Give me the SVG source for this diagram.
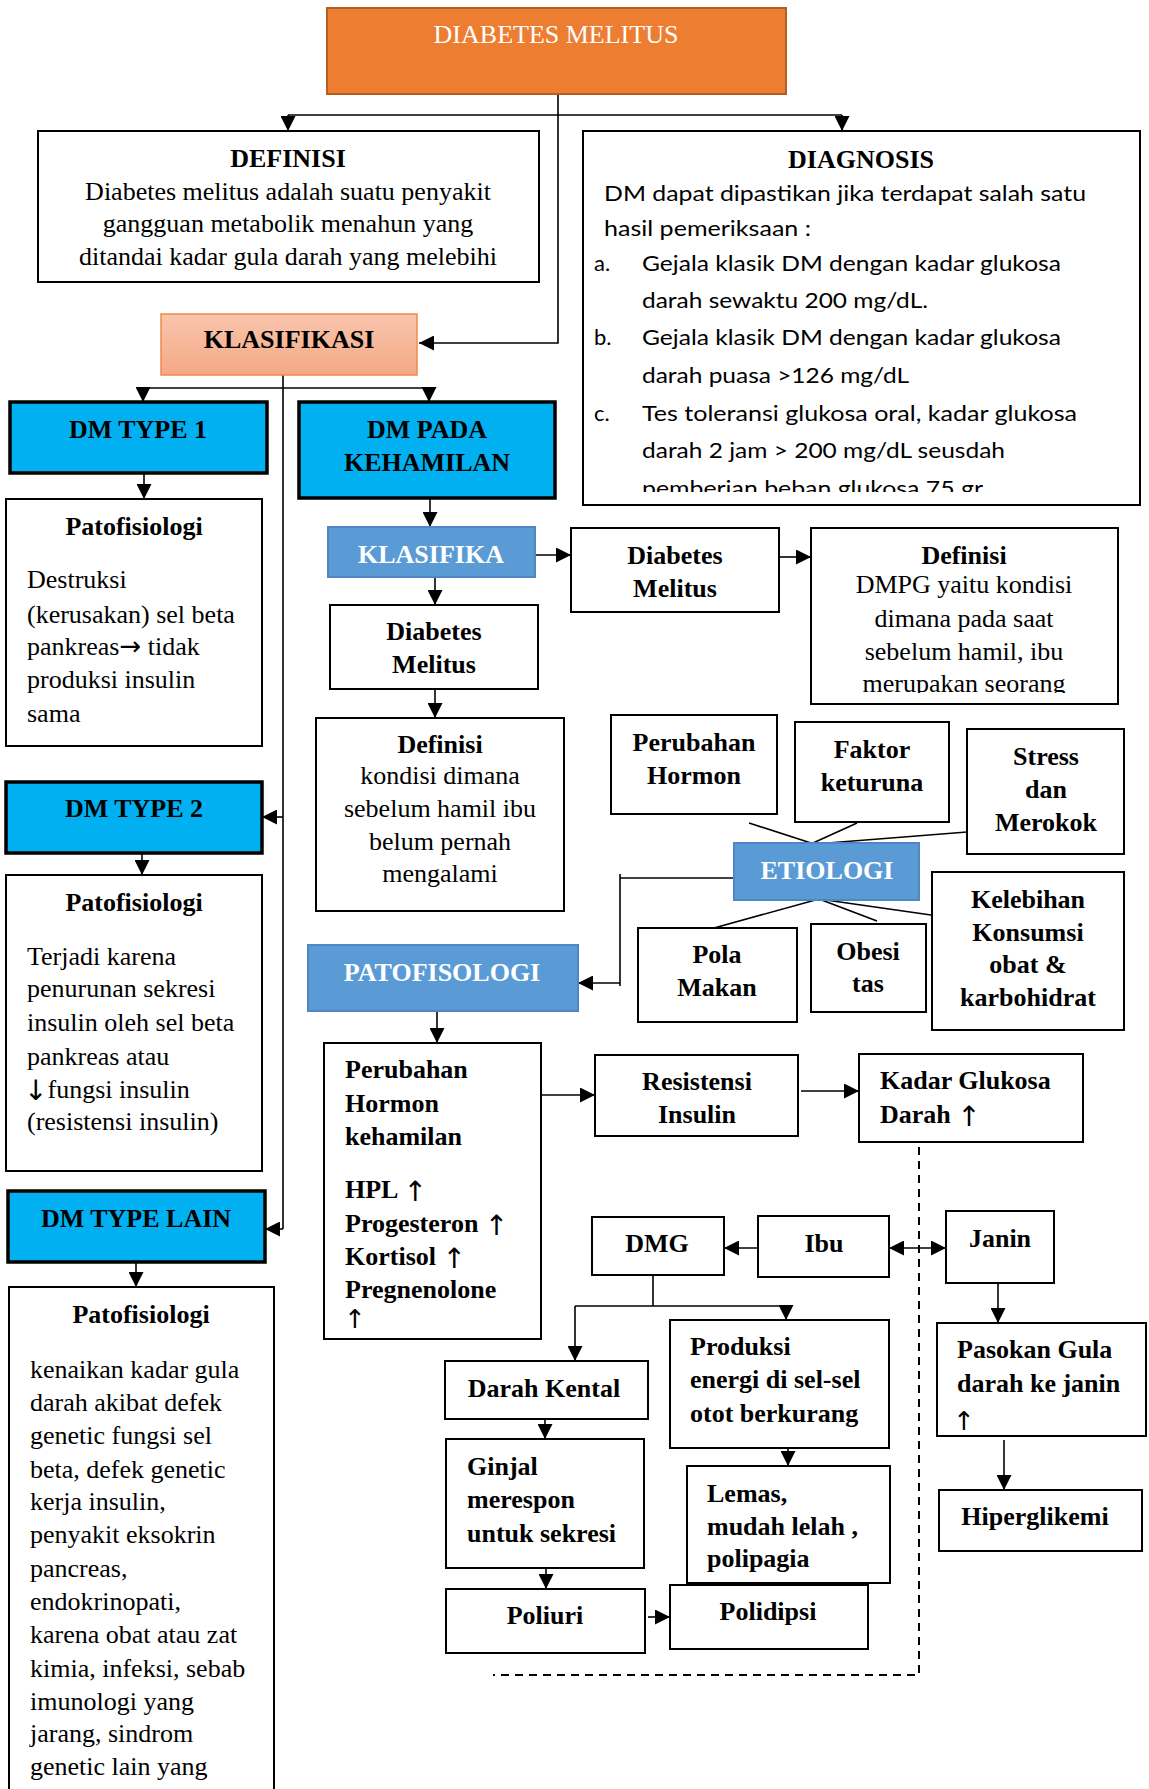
<svg xmlns="http://www.w3.org/2000/svg" width="1149" height="1789" viewBox="0 0 1149 1789">
<style>
.box{fill:#fff;stroke:#000;stroke-width:2}
.dm{fill:#00B0F0;stroke:#000;stroke-width:3.5}
.lb{fill:#5B9BD5;stroke:#4F86C4;stroke-width:2}
.t{font-family:"Liberation Serif","Times New Roman",serif;font-size:26px;fill:#000}
.b{font-weight:bold}
.c{text-anchor:middle}
.w{fill:#fff}
.s{font-family:Lato,"Liberation Sans",sans-serif;font-size:22px;fill:#000}
.ag{font-family:"DejaVu Sans",sans-serif;font-weight:normal}
.ln{fill:none;stroke:#000;stroke-width:1.6}
.ar{fill:none;stroke:#000;stroke-width:1.6;marker-end:url(#ah)}
</style>
<defs>
<marker id="ah" markerWidth="15" markerHeight="15" refX="15" refY="7.5" orient="auto" markerUnits="userSpaceOnUse"><path d="M0,0 L15,7.5 L0,15 z" fill="#000"/></marker>
<marker id="as" markerWidth="15" markerHeight="15" refX="15" refY="7.5" orient="auto-start-reverse" markerUnits="userSpaceOnUse"><path d="M0,0 L15,7.5 L0,15 z" fill="#000"/></marker>
<linearGradient id="kg" x1="0" y1="0" x2="0" y2="1"><stop offset="0" stop-color="#F9C5AD"/><stop offset="1" stop-color="#F4A986"/></linearGradient>
<clipPath id="cd"><rect x="583" y="131" width="557" height="361"/></clipPath>
<clipPath id="cr"><rect x="811" y="528" width="307" height="165"/></clipPath>
</defs>

<g id="connectors">
<path class="ar" d="M558,94 V343 H419"/>
<path class="ln" d="M288,115 H842"/>
<path class="ar" d="M288,115 V131"/>
<path class="ar" d="M842,115 V131"/>
<path class="ln" d="M283,375 V1229"/>
<path class="ln" d="M143,388 H429"/>
<path class="ar" d="M143,388 V402"/>
<path class="ar" d="M429,388 V402"/>
<path class="ar" d="M283,817 H262"/>
<path class="ar" d="M283,1229 H265"/>
<path class="ar" d="M144,473 V499"/>
<path class="ar" d="M142,853 V875"/>
<path class="ar" d="M136,1262 V1287"/>
<path class="ar" d="M430,498 V527"/>
<path class="ar" d="M535,555 H571"/>
<path class="ar" d="M435,577 V605"/>
<path class="ar" d="M435,689 V718"/>
<path class="ar" d="M779,557 H811"/>
<path class="ln" d="M811,843 L749,823"/>
<path class="ln" d="M813,843 L857,823"/>
<path class="ln" d="M815,844 L967,832"/>
<path class="ln" d="M734,878 H620"/>
<path class="ln" d="M620,874 V986"/>
<path class="ar" d="M620,983 H578"/>
<path class="ln" d="M819,899 L714,928"/>
<path class="ln" d="M819,899 L877,921"/>
<path class="ln" d="M819,899 L966,920"/>
<path class="ar" d="M437,1005 V1043"/>
<path class="ar" d="M540,1095 H595"/>
<path class="ar" d="M801,1091 H859"/>
<path class="ln" d="M919,1147 V1675 H493" stroke-dasharray="8,6" style="stroke-width:2"/>
<path class="ar" d="M758,1248 H724"/>
<path class="ln" d="M889,1248 H946" marker-start="url(#as)" marker-end="url(#as)"/>
<path class="ar" d="M998,1283 V1323"/>
<path class="ar" d="M1004,1440 V1490"/>
<path class="ln" d="M653,1271 V1306"/>
<path class="ln" d="M575,1306 H786"/>
<path class="ar" d="M575,1306 V1361"/>
<path class="ar" d="M786,1306 V1320"/>
<path class="ar" d="M545,1415 V1439"/>
<path class="ar" d="M788,1442 V1466"/>
<path class="ar" d="M546,1562 V1589"/>
<path class="ar" d="M648,1617 H670"/>
</g>

<g id="diabetes-melitus">
<rect x="327" y="8" width="459" height="86" fill="#ED7D31" stroke="#B55E22" stroke-width="2"/>
<text class="t c w" x="556" y="43">DIABETES MELITUS</text>
</g>

<g id="definisi">
<rect class="box" x="38" y="131" width="501" height="151"/>
<text class="t b c" x="288" y="167">DEFINISI</text>
<text class="t c" x="288" y="200">Diabetes melitus adalah suatu penyakit</text>
<text class="t c" x="288" y="232">gangguan metabolik menahun yang</text>
<text class="t c" x="288" y="265">ditandai kadar gula darah yang melebihi</text>
</g>

<g id="diagnosis">
<rect class="box" x="583" y="131" width="557" height="374"/>
<text class="t b c" x="861" y="168">DIAGNOSIS</text>
<g clip-path="url(#cd)">
<text class="s" x="604" y="201" textLength="482" lengthAdjust="spacingAndGlyphs">DM dapat dipastikan jika terdapat salah satu</text>
<text class="s" x="604" y="236" textLength="207" lengthAdjust="spacingAndGlyphs">hasil pemeriksaan :</text>
<text class="s" x="594" y="271">a.</text>
<text class="s" x="642" y="271" textLength="419" lengthAdjust="spacingAndGlyphs">Gejala klasik DM dengan kadar glukosa</text>
<text class="s" x="642" y="308" textLength="286" lengthAdjust="spacingAndGlyphs">darah sewaktu 200 mg/dL.</text>
<text class="s" x="594" y="345">b.</text>
<text class="s" x="642" y="345" textLength="419" lengthAdjust="spacingAndGlyphs">Gejala klasik DM dengan kadar glukosa</text>
<text class="s" x="642" y="383" textLength="267" lengthAdjust="spacingAndGlyphs">darah puasa &gt;126 mg/dL</text>
<text class="s" x="594" y="421">c.</text>
<text class="s" x="642" y="421" textLength="435" lengthAdjust="spacingAndGlyphs">Tes toleransi glukosa oral, kadar glukosa</text>
<text class="s" x="642" y="458" textLength="363" lengthAdjust="spacingAndGlyphs">darah 2 jam &gt; 200 mg/dL seusdah</text>
<text class="s" x="642" y="496" textLength="341" lengthAdjust="spacingAndGlyphs">pemberian beban glukosa 75 gr</text>
</g>
</g>

<g id="klasifikasi">
<rect x="161" y="314" width="256" height="61" fill="url(#kg)" stroke="#F08A4B" stroke-width="1.5"/>
<text class="t b c" x="289" y="348">KLASIFIKASI</text>
</g>

<g id="dm-type-1">
<rect class="dm" x="10" y="402" width="257" height="71"/>
<text class="t b c" x="138" y="438">DM TYPE 1</text>
</g>
<g id="patofisiologi-1">
<rect class="box" x="6" y="499" width="256" height="247"/>
<text class="t b c" x="134" y="535">Patofisiologi</text>
<text class="t" x="27" y="588">Destruksi</text>
<text class="t" x="27" y="623">(kerusakan) sel beta</text>
<text class="t" x="27" y="655">pankreas<tspan class="ag">→</tspan> tidak</text>
<text class="t" x="27" y="688">produksi insulin</text>
<text class="t" x="27" y="722">sama</text>
</g>

<g id="dm-type-2">
<rect class="dm" x="6" y="782" width="256" height="71"/>
<text class="t b c" x="134" y="817">DM TYPE 2</text>
</g>
<g id="patofisiologi-2">
<rect class="box" x="6" y="875" width="256" height="296"/>
<text class="t b c" x="134" y="911">Patofisiologi</text>
<text class="t" x="27" y="965">Terjadi karena</text>
<text class="t" x="27" y="997">penurunan sekresi</text>
<text class="t" x="27" y="1031">insulin oleh sel beta</text>
<text class="t" x="27" y="1065">pankreas atau</text>
<text class="t" x="24" y="1098"><tspan class="ag" font-size="28" dy="2">↓</tspan><tspan dy="-2">fungsi insulin</tspan></text>
<text class="t" x="27" y="1130">(resistensi insulin)</text>
</g>

<g id="dm-type-lain">
<rect class="dm" x="8" y="1191" width="257" height="71"/>
<text class="t b c" x="136" y="1227">DM TYPE LAIN</text>
</g>
<g id="patofisiologi-3">
<rect class="box" x="9" y="1287" width="265" height="530"/>
<text class="t b c" x="141" y="1323">Patofisiologi</text>
<text class="t" x="30" y="1378">kenaikan kadar gula</text>
<text class="t" x="30" y="1411">darah akibat defek</text>
<text class="t" x="30" y="1444">genetic fungsi sel</text>
<text class="t" x="30" y="1478">beta, defek genetic</text>
<text class="t" x="30" y="1510">kerja insulin,</text>
<text class="t" x="30" y="1543">penyakit eksokrin</text>
<text class="t" x="30" y="1577">pancreas,</text>
<text class="t" x="30" y="1610">endokrinopati,</text>
<text class="t" x="30" y="1643">karena obat atau zat</text>
<text class="t" x="30" y="1677">kimia, infeksi, sebab</text>
<text class="t" x="30" y="1710">imunologi yang</text>
<text class="t" x="30" y="1742">jarang, sindrom</text>
<text class="t" x="30" y="1775">genetic lain yang</text>
</g>

<g id="dm-pada-kehamilan">
<rect class="dm" x="299" y="402" width="256" height="96"/>
<text class="t b c" x="427" y="438">DM PADA</text>
<text class="t b c" x="427" y="471">KEHAMILAN</text>
</g>

<g id="klasifika">
<rect class="lb" x="328" y="527" width="207" height="50"/>
<text class="t b c w" x="431" y="563">KLASIFIKA</text>
</g>

<g id="diabetes-melitus-2">
<rect class="box" x="330" y="605" width="208" height="84"/>
<text class="t b c" x="434" y="640">Diabetes</text>
<text class="t b c" x="434" y="673">Melitus</text>
</g>

<g id="definisi-2">
<rect class="box" x="316" y="718" width="248" height="193"/>
<text class="t b c" x="440" y="753">Definisi</text>
<text class="t c" x="440" y="784">kondisi dimana</text>
<text class="t c" x="440" y="817">sebelum hamil ibu</text>
<text class="t c" x="440" y="850">belum pernah</text>
<text class="t c" x="440" y="882">mengalami</text>
</g>

<g id="diabetes-melitus-3">
<rect class="box" x="571" y="528" width="208" height="84"/>
<text class="t b c" x="675" y="564">Diabetes</text>
<text class="t b c" x="675" y="597">Melitus</text>
</g>

<g id="definisi-3">
<rect class="box" x="811" y="528" width="307" height="176"/>
<text class="t b c" x="964" y="564">Definisi</text>
<g clip-path="url(#cr)">
<text class="t c" x="964" y="593">DMPG yaitu kondisi</text>
<text class="t c" x="964" y="627">dimana pada saat</text>
<text class="t c" x="964" y="660">sebelum hamil, ibu</text>
<text class="t c" x="964" y="692">merupakan seorang</text>
</g>
</g>

<g id="perubahan-hormon">
<rect class="box" x="611" y="715" width="166" height="99"/>
<text class="t b c" x="694" y="751">Perubahan</text>
<text class="t b c" x="694" y="784">Hormon</text>
</g>

<g id="faktor-keturunan">
<rect class="box" x="795" y="722" width="154" height="100"/>
<text class="t b c" x="872" y="758">Faktor</text>
<text class="t b c" x="872" y="791">keturuna</text>
</g>

<g id="stress-merokok">
<rect class="box" x="967" y="729" width="157" height="125"/>
<text class="t b c" x="1046" y="765">Stress</text>
<text class="t b c" x="1046" y="798">dan</text>
<text class="t b c" x="1046" y="831">Merokok</text>
</g>

<g id="etiologi">
<rect class="lb" x="734" y="843" width="185" height="57"/>
<text class="t b c w" x="827" y="879">ETIOLOGI</text>
</g>

<g id="pola-makan">
<rect class="box" x="638" y="928" width="159" height="94"/>
<text class="t b c" x="717" y="963">Pola</text>
<text class="t b c" x="717" y="996">Makan</text>
</g>

<g id="obesitas">
<rect class="box" x="811" y="924" width="115" height="88"/>
<text class="t b c" x="868" y="960">Obesi</text>
<text class="t b c" x="868" y="992">tas</text>
</g>

<g id="kelebihan">
<rect class="box" x="932" y="872" width="192" height="158"/>
<text class="t b c" x="1028" y="908">Kelebihan</text>
<text class="t b c" x="1028" y="941">Konsumsi</text>
<text class="t b c" x="1028" y="973">obat &amp;</text>
<text class="t b c" x="1028" y="1006">karbohidrat</text>
</g>

<g id="patofisologi">
<rect class="lb" x="308" y="945" width="270" height="66"/>
<text class="t b c w" x="442" y="981">PATOFISOLOGI</text>
</g>

<g id="perubahan-hormon-kehamilan">
<rect class="box" x="324" y="1043" width="217" height="296"/>
<text class="t b" x="345" y="1078">Perubahan</text>
<text class="t b" x="345" y="1112">Hormon</text>
<text class="t b" x="345" y="1145">kehamilan</text>
<text class="t b" x="345" y="1198">HPL <tspan class="ag" font-size="28" dy="3">↑</tspan></text>
<text class="t b" x="345" y="1232">Progesteron <tspan class="ag" font-size="28" dy="3">↑</tspan></text>
<text class="t b" x="345" y="1265">Kortisol <tspan class="ag" font-size="28" dy="3">↑</tspan></text>
<text class="t b" x="345" y="1298">Pregnenolone</text>
<text class="t ag" x="344" y="1328" font-size="16">↑</text>
</g>

<g id="resistensi-insulin">
<rect class="box" x="595" y="1055" width="203" height="81"/>
<text class="t b c" x="697" y="1090">Resistensi</text>
<text class="t b c" x="697" y="1123">Insulin</text>
</g>

<g id="kadar-glukosa">
<rect class="box" x="859" y="1054" width="224" height="88"/>
<text class="t b" x="880" y="1089">Kadar Glukosa</text>
<text class="t b" x="880" y="1123">Darah <tspan class="ag" font-size="28" dy="3">↑</tspan></text>
</g>

<g id="dmg">
<rect class="box" x="592" y="1217" width="132" height="58"/>
<text class="t b c" x="657" y="1252">DMG</text>
</g>

<g id="ibu">
<rect class="box" x="758" y="1216" width="131" height="61"/>
<text class="t b c" x="824" y="1252">Ibu</text>
</g>

<g id="janin">
<rect class="box" x="946" y="1211" width="108" height="72"/>
<text class="t b c" x="1000" y="1247">Janin</text>
</g>

<g id="pasokan-gula">
<rect class="box" x="937" y="1323" width="209" height="113"/>
<text class="t b" x="957" y="1358">Pasokan Gula</text>
<text class="t b" x="957" y="1392">darah ke janin</text>
<text class="t ag" x="953" y="1430" font-size="28">↑</text>
</g>

<g id="hiperglikemi">
<rect class="box" x="939" y="1490" width="203" height="61"/>
<text class="t b c" x="1035" y="1525">Hiperglikemi</text>
</g>

<g id="darah-kental">
<rect class="box" x="445" y="1361" width="203" height="58"/>
<text class="t b c" x="544" y="1397">Darah Kental</text>
</g>

<g id="produksi-energi">
<rect class="box" x="670" y="1320" width="219" height="128"/>
<text class="t b" x="690" y="1355">Produksi</text>
<text class="t b" x="690" y="1388">energi di sel-sel</text>
<text class="t b" x="690" y="1422">otot berkurang</text>
</g>

<g id="ginjal">
<rect class="box" x="446" y="1439" width="198" height="129"/>
<text class="t b" x="467" y="1475">Ginjal</text>
<text class="t b" x="467" y="1508">merespon</text>
<text class="t b" x="467" y="1542">untuk sekresi</text>
</g>

<g id="lemas">
<rect class="box" x="687" y="1466" width="203" height="117"/>
<text class="t b" x="707" y="1502">Lemas,</text>
<text class="t b" x="707" y="1535">mudah lelah ,</text>
<text class="t b" x="707" y="1567">polipagia</text>
</g>

<g id="poliuri">
<rect class="box" x="446" y="1589" width="199" height="64"/>
<text class="t b c" x="545" y="1624">Poliuri</text>
</g>

<g id="polidipsi">
<rect class="box" x="670" y="1585" width="198" height="64"/>
<text class="t b c" x="768" y="1620">Polidipsi</text>
</g>
</svg>
